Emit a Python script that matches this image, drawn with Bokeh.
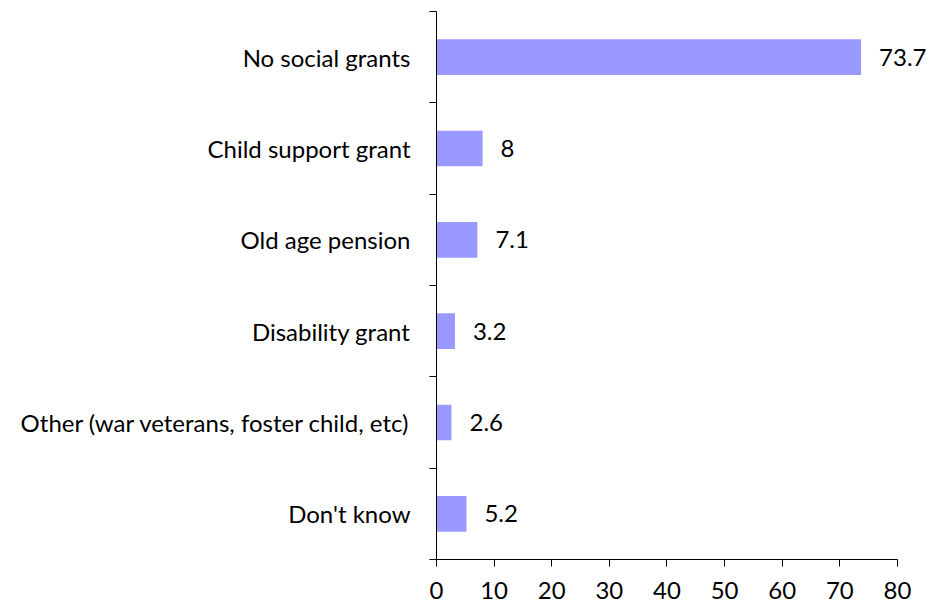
from bokeh.plotting import figure
from bokeh.models import ColumnDataSource, LabelSet, Range1d, FixedTicker
from bokeh.core.properties import value
from bokeh.embed import file_html
from bokeh.resources import INLINE

categories = ["No social grants", "Child support grant", "Old age pension",
              "Disability grant", "Other (war veterans, foster child, etc)", "Don't know"]
values = [73.7, 8, 7.1, 3.2, 2.6, 5.2]
x_ticks = [0, 10, 20, 30, 40, 50, 60, 70, 80]

n = len(categories)
ypos = [n - i - 0.5 for i in range(n)]
labels = [str(v) for v in values]

FONT = "Lato"
FS = "24px"

src = ColumnDataSource(dict(y=ypos, v=values, lab=labels, cat=categories))

p = figure(frame_width=507, frame_height=548, output_backend="svg", toolbar_location=None,
           x_range=Range1d(0, 88), y_range=Range1d(0, n),
           min_border_left=436, min_border_right=0, min_border_top=11, min_border_bottom=45)
p.outline_line_color = None
p.xgrid.visible = False
p.ygrid.visible = False
p.background_fill_color = "white"
p.border_fill_color = "white"

p.hbar(y="y", right="v", left=0, height=0.39, source=src, fill_color="#9999FF", line_color=None)

ls = LabelSet(x="v", y="y", text="lab", source=src, x_offset=18, text_baseline="middle",
              text_font=value(FONT), text_font_size=value(FS), text_color="black")
p.add_layout(ls)

# x axis
xa = p.xaxis[0]
xa.ticker = FixedTicker(ticks=x_ticks)
xa.bounds = (0, 80)
xa.axis_line_color = "black"
xa.major_tick_line_color = "black"
xa.major_tick_out = 7
xa.major_tick_in = 0
xa.minor_tick_line_color = None
xa.major_label_text_font = FONT
xa.major_label_text_font_size = FS
xa.major_label_text_color = "black"
xa.major_label_standoff = 15

# y axis
ya = p.yaxis[0]
ya.ticker = FixedTicker(ticks=ypos, minor_ticks=list(range(n + 1)))
ya.major_label_overrides = {y: c for y, c in zip(ypos, categories)}
ya.axis_line_color = "black"
ya.major_tick_out = 0
ya.major_tick_in = 0
ya.major_tick_line_color = None
ya.minor_tick_out = 7
ya.minor_tick_in = 0
ya.minor_tick_line_color = "black"
ya.major_label_text_font = FONT
ya.major_label_text_font_size = FS
ya.major_label_text_color = "black"
ya.major_label_standoff = 19

open("out.html", "w").write(file_html(p, INLINE))
